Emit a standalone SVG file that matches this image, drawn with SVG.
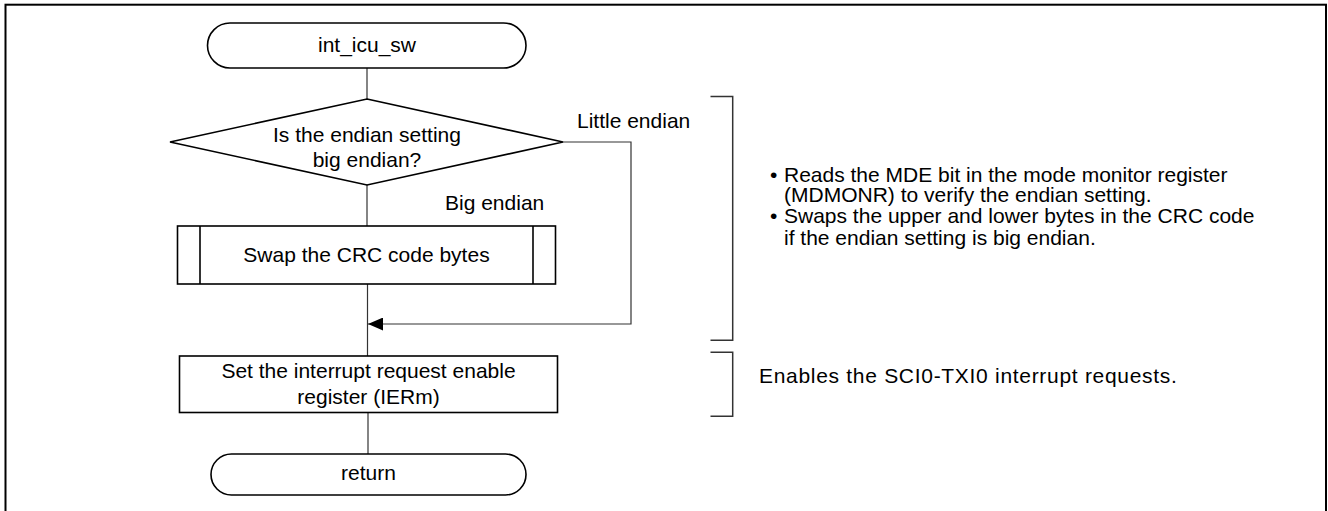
<svg xmlns="http://www.w3.org/2000/svg" width="1328" height="511" viewBox="0 0 1328 511">
<style>
.t{font-family:"Liberation Sans",Arial,sans-serif;font-size:21px;fill:#000}
.c{text-anchor:middle}
.shape{fill:#fff;stroke:#000;stroke-width:1.6}
.conn{fill:none;stroke:#333;stroke-width:1.2}
.br{fill:none;stroke:#333;stroke-width:1.5}
</style>
<defs>
<marker id="arr" markerWidth="15" markerHeight="13" refX="15" refY="6.5" orient="auto" markerUnits="userSpaceOnUse">
<path d="M0,0 L15,6.5 L0,13 Z" fill="#000"/>
</marker>
</defs>
<rect x="5.5" y="4.7" width="1320.5" height="530" fill="#fff" stroke="#000" stroke-width="2"/>
<g id="connectors">
<line class="conn" x1="367" y1="68" x2="367" y2="99"/>
<line class="conn" x1="367" y1="185" x2="367" y2="226"/>
<line class="conn" x1="367.5" y1="284" x2="367.5" y2="356"/>
<polyline class="conn" points="563,142 631,142 631,324 368,324" marker-end="url(#arr)"/>
<line class="conn" x1="368" y1="412" x2="368" y2="454"/>
<text class="t" x="577" y="128">Little endian</text>
<text class="t" x="445" y="210">Big endian</text>
</g>
<g id="start">
<rect class="shape" x="207.5" y="23" width="318.5" height="45" rx="22.5"/>
<text class="t c" x="367" y="52">int_icu_sw</text>
</g>
<g id="decision">
<polygon class="shape" points="367,99 563,142 367,185 170,142"/>
<text class="t c" x="367" y="141.5">Is the endian setting</text>
<text class="t c" x="367" y="166.5">big endian?</text>
</g>
<g id="swap">
<rect class="shape" x="177.5" y="226" width="378" height="58"/>
<line class="shape" x1="200" y1="226" x2="200" y2="284"/>
<line class="shape" x1="533" y1="226" x2="533" y2="284"/>
<text class="t c" x="366.5" y="262">Swap the CRC code bytes</text>
</g>
<g id="setier">
<rect class="shape" x="179.5" y="356" width="378" height="56.5"/>
<text class="t c" x="368.5" y="378">Set the interrupt request enable</text>
<text class="t c" x="368.5" y="403.5">register (IERm)</text>
</g>
<g id="end">
<rect class="shape" x="211" y="454" width="315" height="41" rx="20.5"/>
<text class="t c" x="368.5" y="480">return</text>
</g>
<g id="note1">
<polyline class="br" points="710.5,96.5 732.7,96.5 732.7,340.3 710.5,340.3"/>
<text class="t" x="770" y="181.5">•</text>
<text class="t" x="784" y="181.5">Reads the MDE bit in the mode monitor register</text>
<text class="t" x="784" y="202">(MDMONR) to verify the endian setting.</text>
<text class="t" x="770" y="223.3">•</text>
<text class="t" x="784" y="223.3">Swaps the upper and lower bytes in the CRC code</text>
<text class="t" x="784" y="245">if the endian setting is big endian.</text>
</g>
<g id="note2">
<polyline class="br" points="710.5,352.3 732.7,352.3 732.7,416.3 710.5,416.3"/>
<text class="t" x="759" y="383" letter-spacing="0.7">Enables the SCI0-TXI0 interrupt requests.</text>
</g>
</svg>
